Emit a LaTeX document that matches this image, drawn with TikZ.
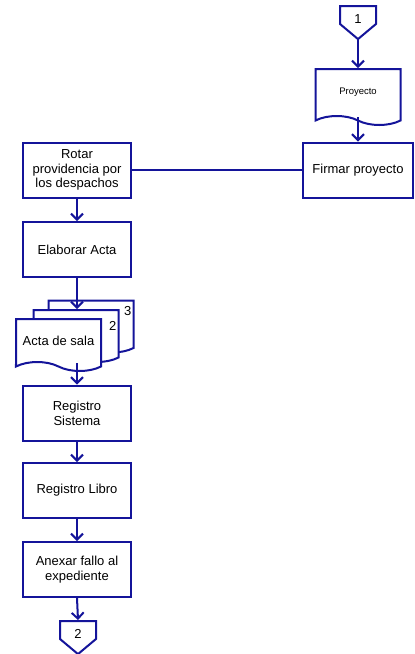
\documentclass[tikz,border=0pt]{standalone}
\usepackage{fontspec}
\setmainfont{Liberation Sans}
\usetikzlibrary{arrows.meta,shapes.symbols}
\definecolor{FlowBlue}{HTML}{14149A}

\begin{document}
\begin{tikzpicture}[x=1pt,y=-1pt,every node/.style={font=\fontsize{13}{14.8}\selectfont,align=center},
    procbox/.style={draw=FlowBlue,fill=white,line width=2pt,minimum width=108pt,minimum height=55pt,inner sep=2pt},
    docbox/.style={tape,tape bend top=none,tape bend bottom=out and in,tape bend height=9pt,draw=FlowBlue,fill=white,line width=2pt,minimum width=85pt,minimum height=52pt},
    offpage/.style={signal,signal to=south,signal pointer angle=100,draw=FlowBlue,fill=white,line width=2pt,minimum width=36pt,minimum height=21pt,inner sep=0pt,text height=17pt,text depth=0pt},
    flow/.style={-{Straight Barb[length=6pt,width=12pt]},line width=2pt,FlowBlue}]
    \useasboundingbox (0,0) rectangle (415,654);
    \node[offpage] (c1) at (358,15) {1};
    \node[docbox,minimum height=56pt,font=\fontsize{9.5}{11}\selectfont] (proj) at (358,92.5) {Proyecto};
    \node[procbox,minimum width=110pt] (firm) at (358,170) {Firmar proyecto};
    \node[procbox] (rot) at (77,170) {Rotar\\providencia por\\los despachos};
    \node[procbox] (elab) at (77,249.5) {Elaborar Acta};
    \node[docbox,label={[anchor=north east,inner sep=1pt,xshift=-2pt,yshift=-6pt]north east:3}] (acta3) at (91,322) {};
    \node[docbox,label={[anchor=north east,inner sep=1pt,xshift=-2pt,yshift=-11pt]north east:2}] (acta2) at (76,331.5) {};
    \node[docbox] (acta1) at (58.5,340.5) {Acta de sala};
    \node[procbox] (regsis) at (77,413) {Registro\\Sistema};
    \node[procbox] (reglib) at (77,490.5) {Registro Libro};
    \node[procbox] (anex) at (77,569.5) {Anexar fallo al\\expediente};
    \node[offpage] (c2) at (78,630) {2};
    \draw[flow] (c1.south) -- (proj.north);
    \draw[flow] (proj.south) -- (firm.north);
    \draw[line width=2pt,FlowBlue] (rot.east) -- (firm.west);
    \draw[flow] (rot.south) -- (elab.north);
    \draw[flow] (elab.south) -- (elab.south |- acta2.north);
    \draw[flow] (acta1.south -| regsis.north) -- (regsis.north);
    \draw[flow] (regsis.south) -- (reglib.north);
    \draw[flow] (reglib.south) -- (anex.north);
    \draw[flow] (anex.south) -- (c2.north);
  \end{tikzpicture}
\end{document}
